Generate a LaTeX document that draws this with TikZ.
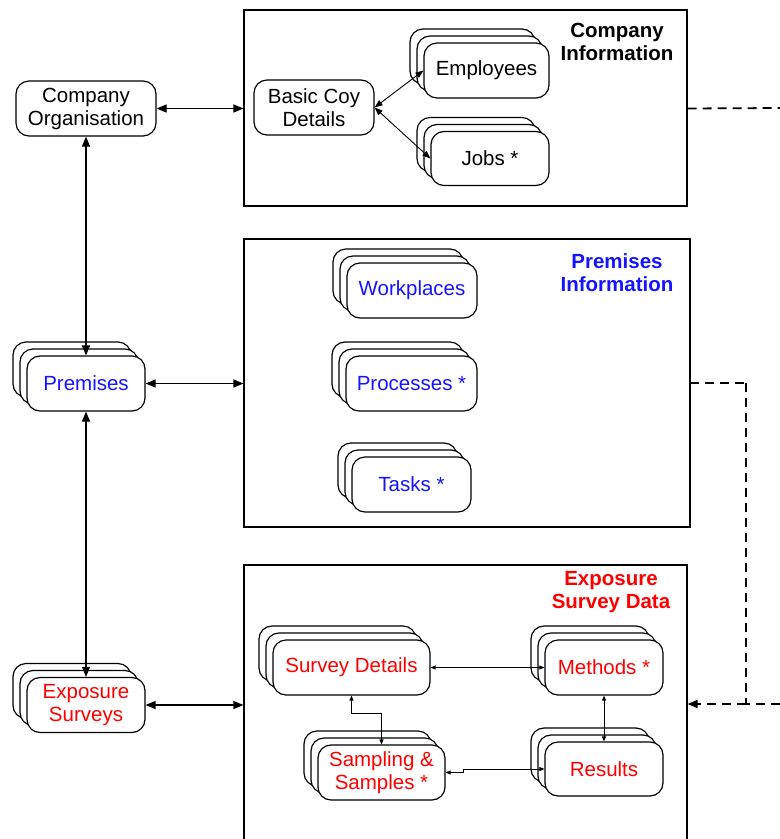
\documentclass[tikz,border=0pt]{standalone}
\usepackage{fontspec}
\setmainfont{Liberation Sans}
\usetikzlibrary{arrows.meta,shadows}
\newcommand\fsz{\fontsize{20.5}{23}\selectfont}
\definecolor{tblue}{RGB}{20,20,255}
\definecolor{tred}{RGB}{255,0,0}
\tikzset{
  box/.style={draw, rounded corners=13pt, fill=white, line width=1.2pt, minimum height=55pt, inner sep=2pt, align=center, font=\fsz},
  stack/.style={box, double copy shadow={shadow xshift=-7pt, shadow yshift=7pt, draw=black, fill=white, line width=1.2pt}},
  outer/.style={draw, line width=1.2pt, rectangle, inner sep=0pt},
  big/.style={line width=1.2pt, {Triangle[length=10pt,width=8pt]}-{Triangle[length=10pt,width=8pt]}},
  small/.style={line width=0.8pt, {Triangle[length=5pt,width=4pt]}-{Triangle[length=5pt,width=4pt]}},
  dashline/.style={line width=1.8pt, dash pattern=on 9pt off 6pt},
  title/.style={font=\fsz\bfseries, align=center},
}
\begin{document}
\begin{tikzpicture}[x=1pt,y=-1pt]
\useasboundingbox (0,0) rectangle (780,839);
% outer boxes
\node[outer, minimum width=443pt, minimum height=196pt] (cbox) at (465.5,108) {};
\node[outer, minimum width=446pt, minimum height=288pt] (pbox) at (467,383) {};
\node[outer, minimum width=443pt, minimum height=285pt] (ebox) at (465.5,707.5) {};
% titles
\node[title] (ctitle) at (617,42) {Company\\Information};
\node[title, text=tblue] (ptitle) at (617,273) {Premises\\Information};
\node[title, text=tred] (etitle) at (611,592) {Exposure\\Survey Data};
% left column
\node[box, minimum width=140pt] (org) at (86,108.5) {Company\\Organisation};
\node[stack, minimum width=118pt, text=tblue] (prem) at (86,383.5) {Premises};
\node[stack, minimum width=118pt, text=tred] (exps) at (86,705) {Exposure\\Surveys};
% company info
\node[box, minimum width=120pt] (basic) at (314,107.5) {Basic Coy\\Details};
\node[stack, minimum width=125pt] (emp) at (486.5,70.5) {Employees};
\node[stack, minimum width=118pt, minimum height=54pt] (jobs) at (490,158.5) {Jobs *};
% premises info
\node[stack, minimum width=130pt, text=tblue] (work) at (412,290.5) {Workplaces};
\node[stack, minimum width=131pt, text=tblue] (proc) at (411.5,383.5) {Processes *};
\node[stack, minimum width=119pt, text=tblue] (task) at (411.5,484.5) {Tasks *};
% exposure survey data
\node[stack, minimum width=157pt, text=tred] (sd) at (351.5,667.5) {Survey Details};
\node[stack, minimum width=118pt, text=tred] (meth) at (604,667.5) {Methods *};
\node[stack, minimum width=127pt, text=tred] (samp) at (381.5,772.5) {Sampling \&\\Samples *};
\node[stack, minimum width=118pt, minimum height=54pt, text=tred] (res) at (604,769) {Results};
% big connectors
\draw[big] (org.east) -- (org.east -| cbox.west);
\draw[big] (prem.east) -- (prem.east -| pbox.west);
\draw[big] (exps.east) -- (exps.east -| ebox.west);
\draw[big] (org.south) -- (prem.north);
\draw[big] (prem.south) -- (exps.north);
\draw[line width=0.9pt, {Triangle[length=8pt,width=6pt]}-{Triangle[length=8pt,width=6pt]}] (basic.east) -- (emp.west);
\draw[line width=0.9pt, {Triangle[length=8pt,width=6pt]}-{Triangle[length=8pt,width=6pt]}] (basic.east) -- (jobs.west);
% small connectors
\draw[small] (sd.east) -- (meth.west);
\draw[small] (meth.south) -- (res.north);
\draw[small] (sd.south) -- ++(0,18) -| (samp.north);
\draw[small] (samp.east) -- ++(18,0) |- (res.west);
% dashed connectors
\coordinate (outA) at (780,108);
\coordinate (outB) at (780,704);
\coordinate (bend) at (746,704);
\coordinate (pstart) at (690,383);
\coordinate (pcorner) at (746,383);
\draw[dashline] (cbox.east |- org.east) -- (outA);
\draw[dashline] (pstart) -- (pcorner);
\draw[dashline] (pcorner) -- (bend);
\draw[dashline] (outB) -- (bend);
\draw[dashline, -{Triangle[length=10pt,width=8pt]}] (bend) -- (bend -| ebox.east);
\end{tikzpicture}
\end{document}
